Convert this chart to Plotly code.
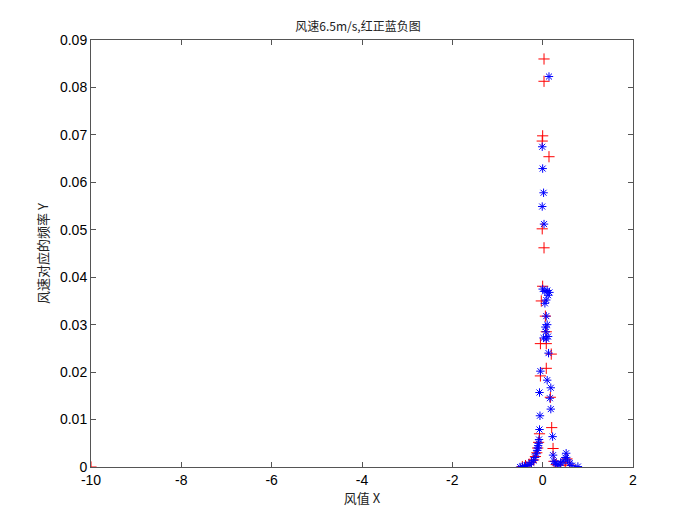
import plotly.graph_objects as go

# red "+" series (positive)
x_red = [-10, 0.03, 0.03, 0.0, -0.01, 0.14, -0.01, 0.03, 0.0, -0.03, 0.06, 0.08,
         -0.05, 0.08, 0.19, 0.08, -0.05, 0.17, 0.2, -0.07, 0.23, 0.54,
         -0.09, -0.11, -0.13, -0.16, -0.2, -0.25, -0.3, -0.38, -0.45,
         0.25, 0.3, 0.4, 0.5, 0.6]
y_red = [0.0, 0.086, 0.0813, 0.0698, 0.0687, 0.0654, 0.0502, 0.0462, 0.0381, 0.035, 0.0318, 0.0285,
         0.026, 0.026, 0.0238, 0.0208, 0.0192, 0.0147, 0.0083, 0.0070, 0.0039, 0.0017,
         0.0052, 0.0040, 0.0030, 0.0022, 0.0015, 0.0010, 0.0006, 0.0003, 0.0001,
         0.0012, 0.0005, 0.0004, 0.0010, 0.0004]

# blue "*" series (negative)
x_blue = [0.14, -0.01, 0.0, 0.02, -0.01, 0.03, 0.0, 0.05, 0.1, 0.15, 0.12, 0.08, 0.05,
          0.08, 0.1, 0.06, 0.07, 0.12, 0.02, 0.08,
          0.13, -0.05, 0.1, 0.18, -0.07, 0.16, 0.18, -0.06, -0.07, 0.22,
          -0.08, -0.09, -0.1, -0.11, -0.12, -0.14, -0.17, -0.2, -0.25, -0.3, -0.35, -0.4, -0.45, -0.5,
          0.23, 0.25, 0.28, 0.32, 0.36, 0.4, 0.45, 0.5, 0.52, 0.55, 0.6, 0.65, 0.78]
y_blue = [0.0823, 0.0675, 0.0629, 0.0578, 0.0549, 0.0512, 0.0375, 0.0370, 0.0372, 0.0368, 0.0362, 0.0352, 0.0345,
          0.0318, 0.0300, 0.0295, 0.0285, 0.0275, 0.0272, 0.0270,
          0.0240, 0.0202, 0.0183, 0.0167, 0.0157, 0.0145, 0.0122, 0.0108, 0.0079, 0.0064,
          0.0058, 0.0050, 0.0045, 0.0040, 0.0035, 0.0028, 0.0020, 0.0014, 0.0009, 0.0005, 0.0003, 0.0002, 0.0001, 0.0,
          0.0025, 0.0012, 0.0008, 0.0005, 0.0004, 0.0008, 0.0012, 0.0020, 0.0029, 0.0015, 0.0008, 0.0003, 0.0001]

x_ticks = [-10, -8, -6, -4, -2, 0, 2]
x_ticktext = ['-10', '-8', '-6', '-4', '-2', '0', '2']
y_ticks = [0, 0.01, 0.02, 0.03, 0.04, 0.05, 0.06, 0.07, 0.08, 0.09]
y_ticktext = ['0', '0.01', '0.02', '0.03', '0.04', '0.05', '0.06', '0.07', '0.08', '0.09']

red = go.Scatter(x=x_red, y=y_red, mode='markers', name='正',
                 marker=dict(symbol='cross-thin', size=8, color='red',
                             line=dict(color='red', width=1)))

blue = go.Scatter(x=x_blue, y=y_blue, mode='markers', name='负',
                  marker=dict(symbol='asterisk-open', size=7, color='blue',
                              line=dict(color='blue', width=1)))

axis_font = dict(family='Liberation Sans, Arial, sans-serif', size=14, color='black')
cjk_font = dict(family='Noto Sans CJK SC, sans-serif', size=13, color='#222')

layout = go.Layout(
    width=700, height=525,
    paper_bgcolor='white', plot_bgcolor='white',
    showlegend=False,
    margin=dict(l=83, r=75, t=32, b=66),
    title=dict(text='风速6.5m/s,红正蓝负图', x=0.5, xanchor='center', y=0.956, yanchor='bottom',
               font=dict(family='Noto Sans CJK SC, Liberation Sans, sans-serif', size=12, color='#222')),
    xaxis=dict(range=[-10, 2], tickvals=x_ticks, ticktext=x_ticktext, ticks='inside', ticklen=5,
               tickcolor='#555', showline=True, linecolor='#555', linewidth=1,
               mirror='ticks', showgrid=False, zeroline=False, tickfont=axis_font,
               title=dict(text='风值 X', standoff=2, font=cjk_font)),
    yaxis=dict(range=[0, 0.09], tickvals=y_ticks, ticktext=y_ticktext, ticks='inside', ticklen=5,
               tickcolor='#555', showline=True, linecolor='#555', linewidth=1,
               mirror='ticks', showgrid=False, zeroline=False, tickfont=axis_font,
               title=dict(text='风速对应的频率 Y', standoff=8, font=cjk_font)),
)

fig = go.Figure(data=[red, blue], layout=layout)
fig.write_html('out.html')
